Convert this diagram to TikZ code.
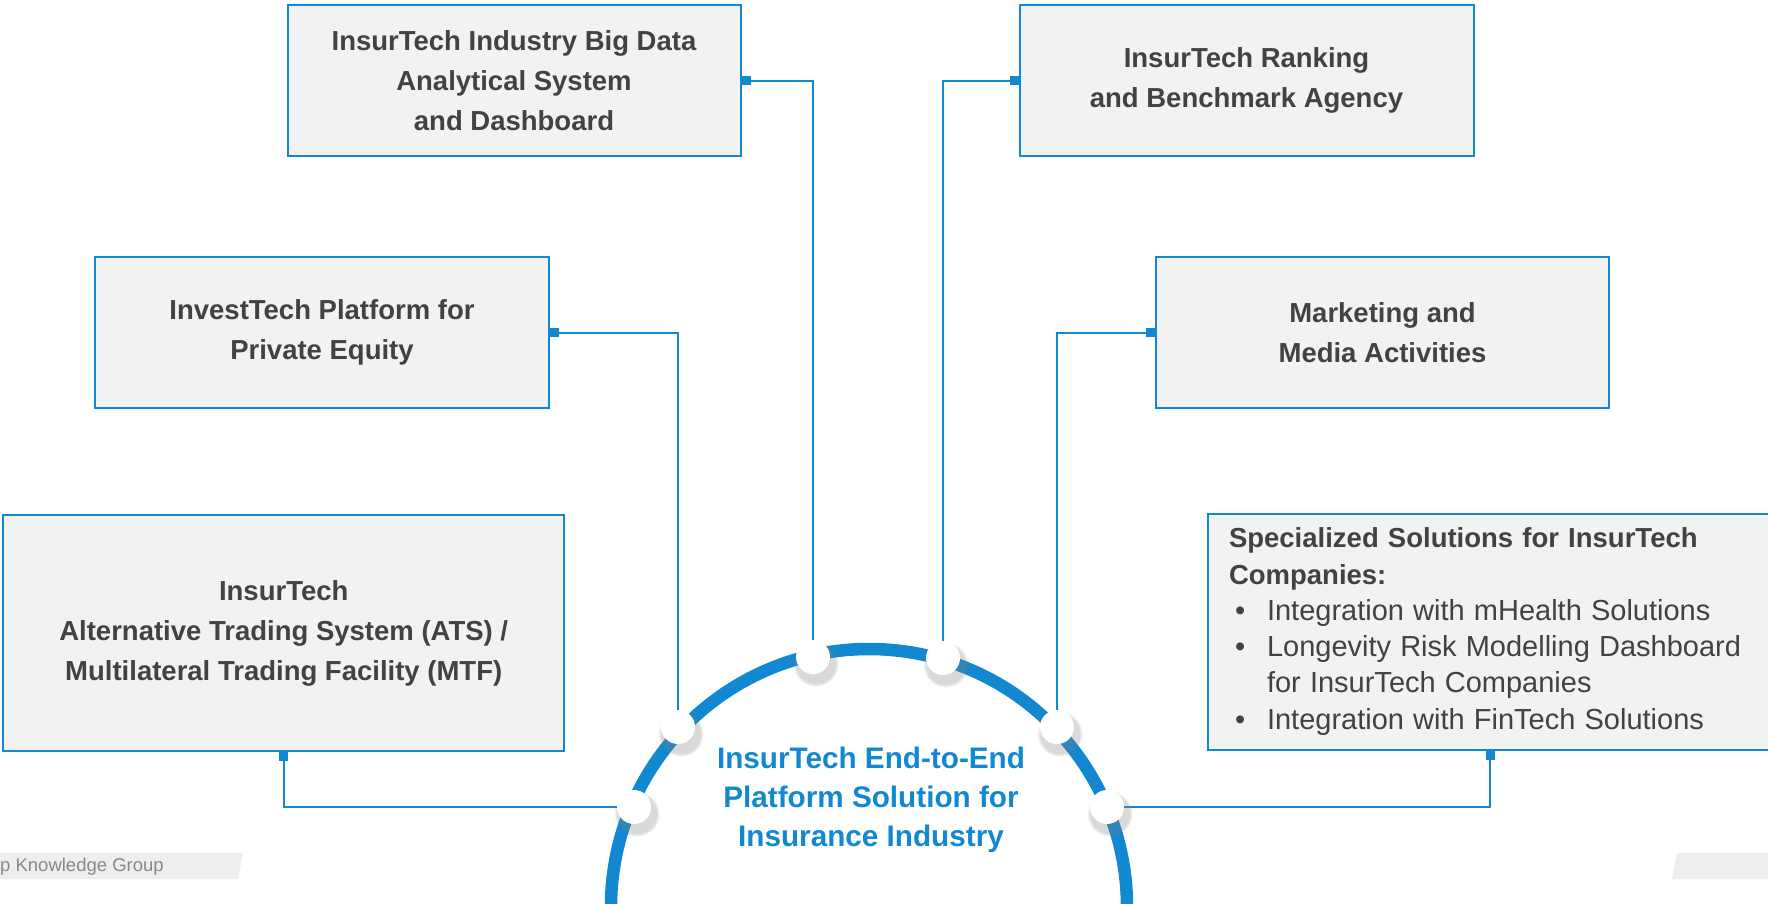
\documentclass[tikz,border=0pt]{standalone}
\usepackage{fontspec}
\setmainfont{Liberation Sans}
\usetikzlibrary{arrows.meta}
\usetikzlibrary{shadows}
\usetikzlibrary{positioning}
\definecolor{mblue}{RGB}{17, 136, 207}
\definecolor{boxgray}{RGB}{242, 242, 242}
\definecolor{textgray}{RGB}{66, 66, 66}
\definecolor{footgray}{RGB}{238, 238, 238}
\tikzset{infobox/.style = {draw=mblue, line width=2pt, fill=boxgray, text=textgray,
                           inner sep=0pt, align=center,
                           font=\fontsize{27.5}{40}\selectfont\bfseries},
         hub/.style = {circle, fill=white, minimum size=34pt, inner sep=0pt,
                       circular drop shadow={shadow xshift=2pt, shadow yshift=-5pt,
                                             shadow scale=1.35, opacity=0.3}},
         link/.style = {mblue, line width=2pt, {Square[length=9pt, width=9pt]}-}}

\begin{document}
\begin{tikzpicture}[x=1pt, y=-1pt]
    \useasboundingbox (0, 0) rectangle (1768, 903);
    \clip (0, 0) rectangle (1768, 903);

    % footer bands
    \fill [footgray] (0, 853) -- (243, 853) -- (238, 879) -- (0, 879) -- cycle;
    \fill [footgray] (1677, 853) -- (1768, 853) -- (1768, 879) -- (1672, 879) -- cycle;
    \node [anchor=base west, inner sep=0pt, text={rgb,255:red,136;green,136;blue,136},
           font=\fontsize{18.5}{22}\selectfont] (footer) at (0, 871) {p Knowledge Group};

    % boxes
    \node [infobox, minimum width=453pt, minimum height=151pt] (bigdata) at (514, 80.5)
        {InsurTech Industry Big Data\\Analytical System\\and Dashboard};
    \node [infobox, minimum width=454pt, minimum height=151pt] (ranking) at (1246.5, 80.5)
        {InsurTech Ranking\\and Benchmark Agency};
    \node [infobox, minimum width=454pt, minimum height=151pt] (investtech) at (322, 332.5)
        {InvestTech Platform for\\Private Equity};
    \node [infobox, minimum width=453pt, minimum height=151pt] (marketing) at (1382.5, 332.5)
        {Marketing and\\Media Activities};
    \node [infobox, minimum width=560.5pt, minimum height=236pt] (ats) at (283.7, 633)
        {InsurTech\\Alternative Trading System (ATS) /\\Multilateral Trading Facility (MTF)};
    \node [infobox, minimum width=564pt, minimum height=236pt, text width=522pt, align=left,
           font=\fontsize{27.5}{36.3}\selectfont\bfseries] (special) at (1490, 631.5)
        {Specialized Solutions for InsurTech\\
         Companies:\\
         {\fontsize{29}{36.3}\selectfont\mdseries
         \hspace*{6pt}\makebox[32pt][l]{\textbullet}Integration with mHealth Solutions\\
         \hspace*{6pt}\makebox[32pt][l]{\textbullet}Longevity Risk Modelling Dashboard\\
         \hspace*{38pt}for InsurTech Companies\\
         \hspace*{6pt}\makebox[32pt][l]{\textbullet}Integration with FinTech Solutions}};

    % platform ring
    \draw [mblue, line width=12.5pt] (869, 907) circle [radius=258pt];
    \node [text=mblue, align=center, font=\fontsize{29.7}{39}\selectfont\bfseries] (platform)
        at (871, 800) {InsurTech End-to-End\\Platform Solution for\\Insurance Industry};

    \coordinate (h1pos) at (813, 657);
    \coordinate (h2pos) at (943, 658);
    \coordinate (h3pos) at (678, 727);
    \coordinate (h4pos) at (1057, 727);
    \coordinate (h5pos) at (634, 807);
    \coordinate (h6pos) at (1107, 807);

    % connectors
    \draw [link] (bigdata.east) -| (h1pos);
    \draw [link] (ranking.west) -| (h2pos);
    \draw [link] (investtech.east) -| (h3pos);
    \draw [link] (marketing.west) -| (h4pos);
    \draw [link] (ats.south) |- (h5pos);
    \draw [link] (special.south) |- (h6pos);

    % hubs on the ring
    \foreach \i in {1, ..., 6}
        \node [hub] (h\i) at (h\i pos) {};
\end{tikzpicture}
\end{document}
